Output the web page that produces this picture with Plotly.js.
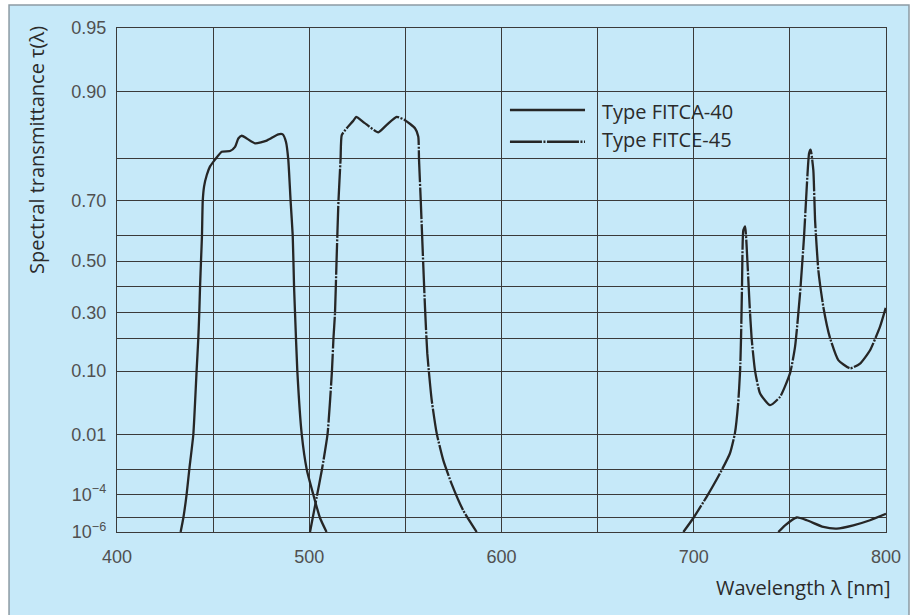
<!DOCTYPE html>
<html><head><meta charset="utf-8">
<script src="https://cdn.plot.ly/plotly-3.0.1.min.js"></script>
<style>html,body{margin:0;padding:0;background:#fff;}#chart{width:915px;height:615px;}</style>
</head><body><div id="chart"></div>
<script>
// Custom (non-linear) transmittance scale of the y axis: grid values and their relative heights
const SCALE_T   = [1e-6, 1e-5, 1e-4, 1e-3, 0.01, 0.10, 0.20, 0.30, 0.40, 0.50, 0.60, 0.70, 0.80, 0.90, 0.95];
const SCALE_POS = [0, 0.0278, 0.0743, 0.1240, 0.1935, 0.3192, 0.3848, 0.4350, 0.4867, 0.5377, 0.5880, 0.6569, 0.7404, 0.8740, 1];

// labelled y ticks and unlabelled y grid lines
const Y_TICKS = [1e-6, 1e-4, 0.01, 0.10, 0.30, 0.50, 0.70, 0.90, 0.95];
const Y_TICK_LABELS = ['10<sup>−6</sup>', '10<sup>−4</sup>', '0.01', '0.10', '0.30', '0.50', '0.70', '0.90', '0.95'];
const Y_MINOR = [1e-5, 1e-3, 0.20, 0.40, 0.60, 0.80];

const X_TICKS = [400, 500, 600, 700, 800];
const X_TICK_LABELS = ['400', '500', '600', '700', '800'];
const X_MINOR = [450, 550, 650, 750];

const SERIES_NAMES = ['Type FITCA-40', 'Type FITCE-45'];

const FITCA40_WL = [433.1, 434.5, 436.2, 437.6, 439.7, 441.4, 442.3, 442.8, 443.2, 443.7, 444.2, 444.6, 445.3, 446.7, 448.4, 451.0, 454.5, 458.8, 461.4, 463.1, 464.9, 467.5, 471.8, 477.9, 483.9, 486.2, 487.9, 489.1, 490.3, 491.4, 492.1, 492.6, 493.8, 496.1, 498.7, 502.1, 505.6, 509.0,
  null, 744.0, 747.5, 753.6, 758.8, 767.4, 774.4, 783.0, 791.7, 800.0];
const FITCA40_T = [1e-6, 1e-5, 1e-4, 1e-3, 0.01, 0.10, 0.20, 0.30, 0.40, 0.50, 0.60, 0.70, 0.733, 0.760, 0.781, 0.798, 0.810, 0.811, 0.817, 0.829, 0.833, 0.829, 0.822, 0.826, 0.835, 0.835, 0.824, 0.798, 0.70, 0.60, 0.40, 0.30, 0.10, 0.01, 1e-3, 1e-4, 1e-5, 1e-6,
  null, 1e-6, 3e-6, 1.05e-5, 6.9e-6, 2.3e-6, 1.75e-6, 3e-6, 6.9e-6, 1.5e-5];

const FITCE45_WL = [500.4, 503.9, 506.6, 509.5, 511.8, 512.6, 513.4, 514.2, 515.2, 516.3, 516.9, 519.5, 522.9, 524.4, 528.7, 535.9, 540.3, 545.5, 549.8, 555.0, 556.7, 557.1, 558.0, 559.0, 560.2, 561.4, 563.7, 566.3, 569.7, 574.0, 580.1, 587.1,
  null, 694.6, 699.8, 706.7, 713.6, 718.8, 721.4, 723.1, 724.1, 724.6, 725.1, 725.8, 726.7, 727.9, 729.0, 730.1, 731.9, 734.5, 739.7, 744.9, 750.1, 752.7, 755.3, 757.4, 758.8, 760.0, 760.8, 762.2, 763.1, 764.8, 767.4, 770.9, 775.2, 781.3, 786.5, 791.7, 796.9, 800.0];
const FITCE45_T = [1e-6, 8e-5, 1e-3, 0.01, 0.10, 0.20, 0.30, 0.50, 0.70, 0.80, 0.834, 0.844, 0.855, 0.861, 0.852, 0.838, 0.849, 0.861, 0.856, 0.844, 0.832, 0.798, 0.70, 0.541, 0.32, 0.145, 0.0348, 0.0104, 1.85e-3, 2.75e-4, 2.1e-5, 1e-6,
  null, 1e-6, 1e-5, 8e-5, 6.9e-4, 2.86e-3, 0.0104, 0.031, 0.10, 0.20, 0.40, 0.615, 0.625, 0.50, 0.333, 0.20, 0.10, 0.0445, 0.029, 0.0393, 0.093, 0.167, 0.372, 0.60, 0.733, 0.808, 0.813, 0.772, 0.643, 0.462, 0.32, 0.20, 0.126, 0.106, 0.117, 0.155, 0.24, 0.32];

// map a transmittance value onto the custom scale (piecewise log interpolation)
function toScale(t) {
  if (t === null || t === undefined) return null;
  const lt = Math.log10(t);
  const L = SCALE_T.map(Math.log10);
  if (lt <= L[0]) return SCALE_POS[0];
  for (let i = 0; i < L.length - 1; i++) {
    if (lt <= L[i + 1]) {
      const f = (lt - L[i]) / (L[i + 1] - L[i]);
      return SCALE_POS[i] + f * (SCALE_POS[i + 1] - SCALE_POS[i]);
    }
  }
  return SCALE_POS[SCALE_POS.length - 1];
}

const INK = '#262626';
const GRID = '#3a3a3a';
const DASH_DOT = '32px,1.5px,2px,1.5px';

const traces = [
  { x: FITCA40_WL, y: FITCA40_T.map(toScale), customdata: FITCA40_T, name: SERIES_NAMES[0], type: 'scatter', mode: 'lines',
    connectgaps: false, line: { color: INK, width: 2.3, shape: 'spline', smoothing: 0.5 },
    hovertemplate: '%{x} nm<br>τ = %{customdata}<extra></extra>' },
  { x: FITCE45_WL, y: FITCE45_T.map(toScale), customdata: FITCE45_T, name: SERIES_NAMES[1], type: 'scatter', mode: 'lines',
    connectgaps: false, line: { color: INK, width: 2.3, shape: 'spline', smoothing: 0.5, dash: DASH_DOT },
    hovertemplate: '%{x} nm<br>τ = %{customdata}<extra></extra>' }
];

const tickFont = { family: 'Liberation Sans, Arial, sans-serif', size: 18, color: '#505050' };
const textFont = { family: 'Open Sans, Noto Sans, sans-serif', size: 20, color: '#2b2b2b' };

const layout = {
  width: 915, height: 615,
  margin: { l: 117, r: 29, t: 28, b: 83 },
  paper_bgcolor: '#ffffff',
  plot_bgcolor: 'rgba(0,0,0,0)',
  showlegend: false,
  xaxis: {
    range: [400, 800], tickmode: 'array', tickvals: X_TICKS, ticktext: X_TICK_LABELS,
    showgrid: true, gridcolor: GRID, gridwidth: 1.4, zeroline: false,
    minor: { tickmode: 'array', tickvals: X_MINOR, showgrid: true, gridcolor: GRID, gridwidth: 1.4, ticks: '' },
    showline: true, linecolor: GRID, linewidth: 1.4, mirror: true,
    ticks: '', tickfont: tickFont, ticklabelstandoff: 8, fixedrange: true
  },
  yaxis: {
    range: [0, 1], tickmode: 'array', tickvals: Y_TICKS.map(toScale), ticktext: Y_TICK_LABELS,
    showgrid: true, gridcolor: GRID, gridwidth: 1.4, zeroline: false,
    minor: { tickmode: 'array', tickvals: Y_MINOR.map(toScale), showgrid: true, gridcolor: GRID, gridwidth: 1.4, ticks: '' },
    showline: true, linecolor: GRID, linewidth: 1.4, mirror: true,
    ticks: '', tickfont: tickFont, ticklabelstandoff: 6, fixedrange: true
  },
  shapes: [
    { type: 'rect', xref: 'paper', yref: 'paper', x0: -0.1404, x1: 1.0299, y0: -0.175, y1: 1.0456,
      fillcolor: '#c6e9f9', line: { color: '#8d9ba4', width: 1.5 }, layer: 'below' },
    { type: 'line', xref: 'paper', yref: 'paper', x0: 0.511, x1: 0.6086, y0: 0.8373, y1: 0.8373,
      line: { color: INK, width: 2.6 } },
    { type: 'line', xref: 'paper', yref: 'paper', x0: 0.511, x1: 0.6086, y0: 0.7744, y1: 0.7744,
      line: { color: INK, width: 2.6, dash: DASH_DOT } }
  ],
  annotations: [
    { text: 'Spectral transmittance τ(λ)', xref: 'paper', yref: 'paper', x: -0.104, y: 0.758,
      xanchor: 'center', yanchor: 'middle', textangle: -90, showarrow: false, font: textFont },
    { text: 'Wavelength λ [nm]', xref: 'paper', yref: 'paper', x: 1.009, y: -0.111,
      xanchor: 'right', yanchor: 'middle', showarrow: false, font: textFont },
    { text: SERIES_NAMES[0], xref: 'paper', yref: 'paper', x: 0.628, y: 0.835,
      xanchor: 'left', yanchor: 'middle', showarrow: false, font: textFont },
    { text: SERIES_NAMES[1], xref: 'paper', yref: 'paper', x: 0.628, y: 0.778,
      xanchor: 'left', yanchor: 'middle', showarrow: false, font: textFont }
  ]
};

Plotly.newPlot('chart', traces, layout, { displayModeBar: false, responsive: false });
</script>
</body></html>
